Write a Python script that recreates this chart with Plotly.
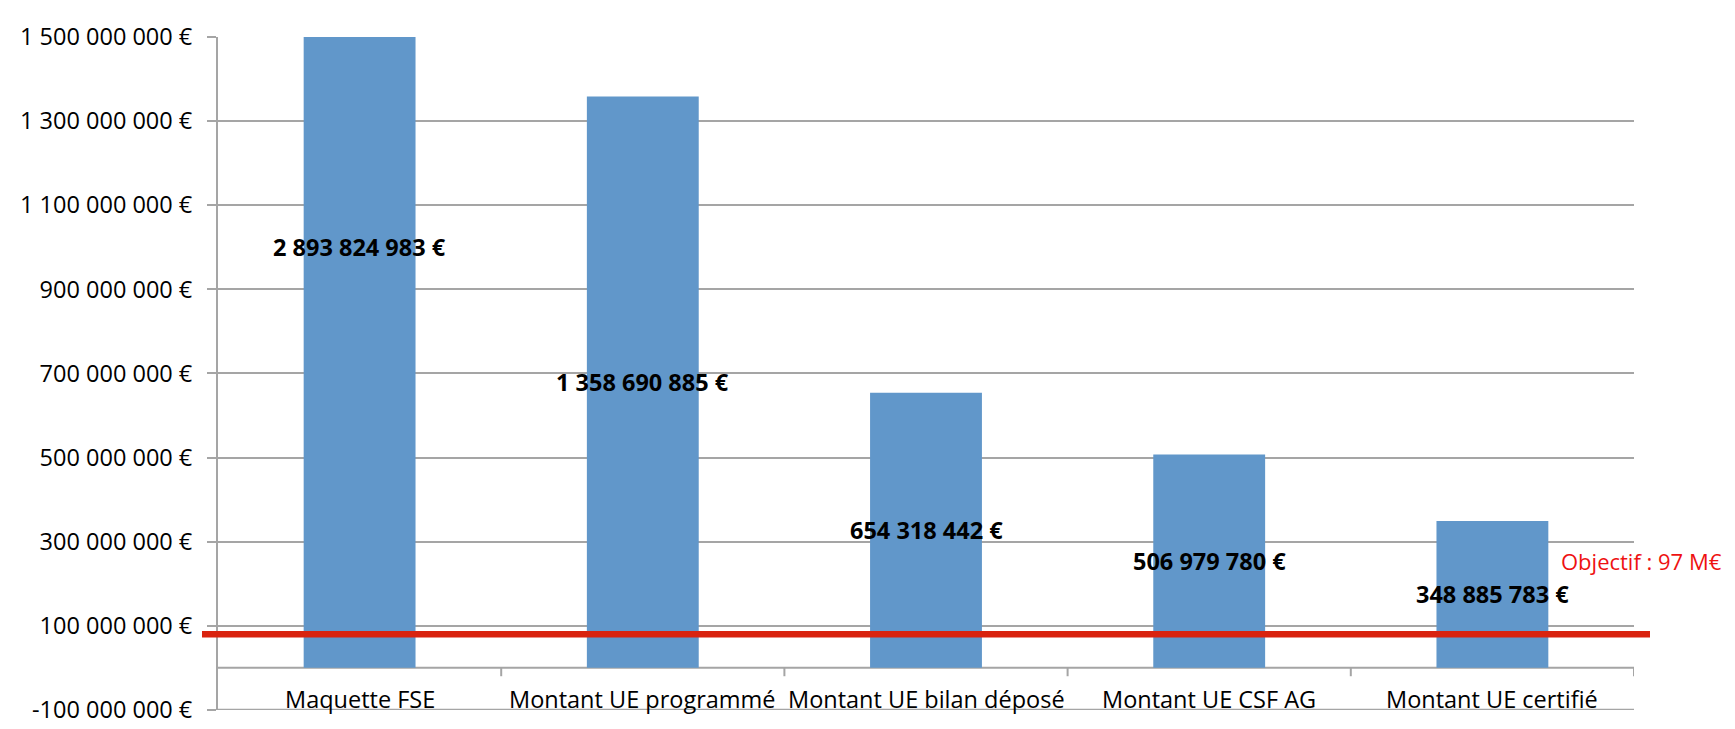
import plotly.graph_objects as go

categories = ["Maquette FSE", "Montant UE programmé", "Montant UE bilan déposé",
              "Montant UE CSF AG", "Montant UE certifié"]
values = [2893824983, 1358690885, 654318442, 506979780, 348885783]
value_labels = ["2 893 824 983 €", "1 358 690 885 €", "654 318 442 €",
                "506 979 780 €", "348 885 783 €"]
tick_values = [-100e6, 100e6, 300e6, 500e6, 700e6, 900e6, 1100e6, 1300e6, 1500e6]
tick_labels = ["-100 000 000 €", "100 000 000 €", "300 000 000 €", "500 000 000 €",
               "700 000 000 €", "900 000 000 €", "1 100 000 000 €", "1 300 000 000 €",
               "1 500 000 000 €"]
objectif_line = 80e6
objectif_text = "Objectif : 97 M€"

FONT = "Open Sans"
GRID = "#a5a5a5"
BAR = "#6197ca"
RED = "#d9230f"
FS = 23.5

x = list(range(len(categories)))
label_cap = 2e9

fig = go.Figure()
fig.add_trace(go.Bar(x=x, y=values, marker=dict(color=BAR, line=dict(width=0)),
                     width=0.395, showlegend=False, hoverinfo="skip"))

annotations = []
for i, (v, t) in enumerate(zip(values, value_labels)):
    annotations.append(dict(x=i, y=min(v, label_cap) / 2, xref="x", yref="y", text="<b>" + t + "</b>",
                            showarrow=False, font=dict(family=FONT, size=FS, color="black")))
for i, c in enumerate(categories):
    annotations.append(dict(x=i, y=-74e6, xref="x", yref="y", text=c, showarrow=False,
                            font=dict(family=FONT, size=FS, color="black")))
annotations.append(dict(x=1.0636, y=255e6, xref="paper", yref="y",
                        text=objectif_text, showarrow=False, xanchor="right",
                        font=dict(family=FONT, size=22, color="#ee1111")))

shapes = []
# x axis line at zero and category separators
shapes.append(dict(type="line", xref="x", yref="y", x0=-0.5, x1=len(categories) - 0.5,
                   y0=0, y1=0, line=dict(color=GRID, width=2), layer="below"))
for b in [i + 0.5 for i in range(len(categories))]:
    shapes.append(dict(type="line", xref="x", yref="y", x0=b, x1=b, y0=0, y1=-20e6,
                       line=dict(color=GRID, width=2), layer="below"))
# bottom gridline at -100M
shapes.append(dict(type="line", xref="paper", yref="y", x0=0, x1=1,
                   y0=tick_values[0], y1=tick_values[0], line=dict(color=GRID, width=2), layer="below"))
shapes.append(dict(type="line", xref="paper", yref="y", x0=-0.0113, x1=1.0113,
                   y0=objectif_line, y1=objectif_line, line=dict(color=RED, width=6.5)))

fig.update_layout(
    width=1735, height=729,
    margin=dict(l=207, r=109, t=21, b=13),
    paper_bgcolor="white", plot_bgcolor="white",
    annotations=annotations, shapes=shapes,
    xaxis=dict(range=[-0.5, len(categories) - 0.5], showticklabels=False, showgrid=False,
               zeroline=False, showline=False, ticks=""),
    yaxis=dict(range=[-100.3e6, 1500e6], tickvals=tick_values, ticktext=tick_labels,
               showgrid=True, gridcolor=GRID, gridwidth=2, zeroline=False,
               showline=True, linecolor=GRID, linewidth=2, ticks="outside", ticklen=9,
               tickcolor=GRID, tickwidth=2, ticklabelstandoff=10, ticklabeloverflow="allow",
               tickfont=dict(family=FONT, size=FS, color="black")),
    font=dict(family=FONT),
)
fig.write_html("out.html")
